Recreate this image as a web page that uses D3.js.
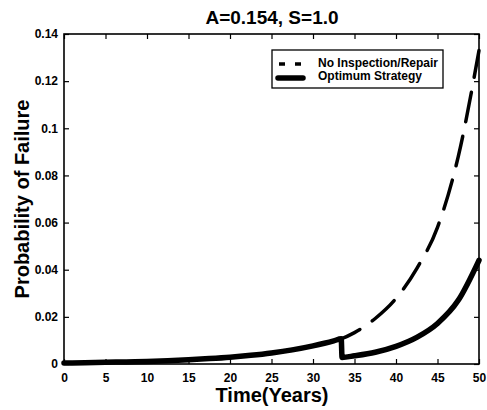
<!DOCTYPE html>
<html>
<head>
<meta charset="utf-8">
<script src="https://cdn.jsdelivr.net/npm/d3@7"></script>
<style>
  html, body { margin: 0; padding: 0; background: #fff; }
  svg { display: block; font-family: "Liberation Sans", Arial, sans-serif; }
</style>
</head>
<body>
<svg id="chart" width="487" height="410"></svg>
<script>
// ---- data ----
const title = "A=0.154, S=1.0";
const xLabel = "Time(Years)";
const yLabel = "Probability of Failure";
const seriesNames = ["No Inspection/Repair", "Optimum Strategy"];

const repairYears = [0, 2.5, 5, 7.5, 10, 12.5, 15, 17.5, 20, 22.5, 25, 27.5, 30, 32.5, 33.4, 35, 37.5, 40, 42.5, 45, 47.5, 50];
const noRepair    = [0.0004, 0.0005, 0.0007, 0.0009, 0.0011, 0.0014, 0.0018, 0.0023, 0.0029, 0.0037, 0.0047, 0.006, 0.0077, 0.0098, 0.0107, 0.0133, 0.0193, 0.0278, 0.0405, 0.058, 0.088, 0.133];

const optYears = [0, 2.5, 5, 7.5, 10, 12.5, 15, 17.5, 20, 22.5, 25, 27.5, 30, 32.5, 33.4, 33.5, 35, 37.5, 40, 42.5, 45, 47.5, 50];
const optimum  = [0.0004, 0.0005, 0.0007, 0.0009, 0.0011, 0.0014, 0.0018, 0.0023, 0.0029, 0.0037, 0.0047, 0.006, 0.0077, 0.0098, 0.0107, 0.0028, 0.0035, 0.005, 0.0075, 0.0113, 0.0172, 0.027, 0.044];

const xTicks = [0, 5, 10, 15, 20, 25, 30, 35, 40, 45, 50];
const yTicks = [0, 0.02, 0.04, 0.06, 0.08, 0.1, 0.12, 0.14];
const yTickLabels = ["0", "0.02", "0.04", "0.06", "0.08", "0.1", "0.12", "0.14"];

// ---- layout ----
const svg = d3.select("#chart");
const L = 64, R = 479, T = 34, B = 364;
const x = d3.scaleLinear().domain([0, 50]).range([L, R]);
const y = d3.scaleLinear().domain([0, 0.14]).range([B, T]);

// axes (ticks inward, mirrored)
const tickLen = 5;
const gx = svg.append("g").attr("transform", `translate(0,${B})`)
  .call(d3.axisBottom(x).tickValues(xTicks).tickSizeInner(-tickLen).tickSizeOuter(0).tickPadding(9).tickFormat(d3.format("d")));
const gy = svg.append("g").attr("transform", `translate(${L},0)`)
  .call(d3.axisLeft(y).tickValues(yTicks).tickSizeInner(-tickLen).tickSizeOuter(0).tickPadding(6).tickFormat((d, i) => yTickLabels[i]));
const gt = svg.append("g").attr("transform", `translate(0,${T})`)
  .call(d3.axisTop(x).tickValues(xTicks).tickSizeInner(-tickLen).tickSizeOuter(0).tickFormat(""));
const gr = svg.append("g").attr("transform", `translate(${R},0)`)
  .call(d3.axisRight(y).tickValues(yTicks).tickSizeInner(-tickLen).tickSizeOuter(0).tickFormat(""));

[gx, gy, gt, gr].forEach(g => {
  g.select(".domain").remove();
  g.selectAll(".tick line").attr("stroke", "#000").attr("stroke-width", 1.2);
  g.selectAll(".tick text").attr("fill", "#000").attr("font-size", 12).attr("font-weight", "bold")
    .attr("font-family", "'Liberation Sans', Arial, sans-serif");
});

// box
svg.append("rect").attr("x", L).attr("y", T).attr("width", R - L).attr("height", B - T)
  .attr("fill", "none").attr("stroke", "#000").attr("stroke-width", 1.6);

// lines
const lineGen = d3.line().curve(d3.curveMonotoneX);
svg.append("path")
  .attr("d", lineGen(repairYears.map((t, i) => [x(t), y(noRepair[i])])))
  .attr("fill", "none").attr("stroke", "#000").attr("stroke-width", 3.5)
  .attr("stroke-dasharray", "30,15").attr("stroke-linecap", "round");
svg.append("path")
  .attr("d", lineGen(optYears.map((t, i) => [x(t), y(optimum[i])])))
  .attr("fill", "none").attr("stroke", "#000").attr("stroke-width", 5.5)
  .attr("stroke-linejoin", "round").attr("stroke-linecap", "round");

// titles
svg.append("text").attr("x", 272).attr("y", 24).attr("text-anchor", "middle")
  .attr("font-size", 19).attr("font-weight", "bold").text(title);
svg.append("text").attr("x", 272).attr("y", 402).attr("text-anchor", "middle")
  .attr("font-size", 20).attr("font-weight", "bold").text(xLabel);
svg.append("text").attr("transform", `translate(29,${(T + B) / 2}) rotate(-90)`).attr("text-anchor", "middle")
  .attr("font-size", 20).attr("font-weight", "bold").text(yLabel);

// legend
const lg = svg.append("g");
lg.append("rect").attr("x", 272).attr("y", 50).attr("width", 171).attr("height", 38)
  .attr("fill", "#fff").attr("stroke", "#000").attr("stroke-width", 1.3);
lg.append("line").attr("x1", 279).attr("x2", 302).attr("y1", 64).attr("y2", 64)
  .attr("stroke", "#000").attr("stroke-width", 3.5).attr("stroke-dasharray", "6,10").attr("stroke-linecap", "butt");
lg.append("line").attr("x1", 278).attr("x2", 303).attr("y1", 78).attr("y2", 78)
  .attr("stroke", "#000").attr("stroke-width", 5.5).attr("stroke-linecap", "round");
lg.selectAll("text.leg").data(seriesNames).join("text").attr("class", "leg")
  .attr("x", 318).attr("y", (d, i) => 67 + i * 13)
  .attr("font-size", 12).attr("font-weight", "bold").text(d => d);
</script>
</body>
</html>
